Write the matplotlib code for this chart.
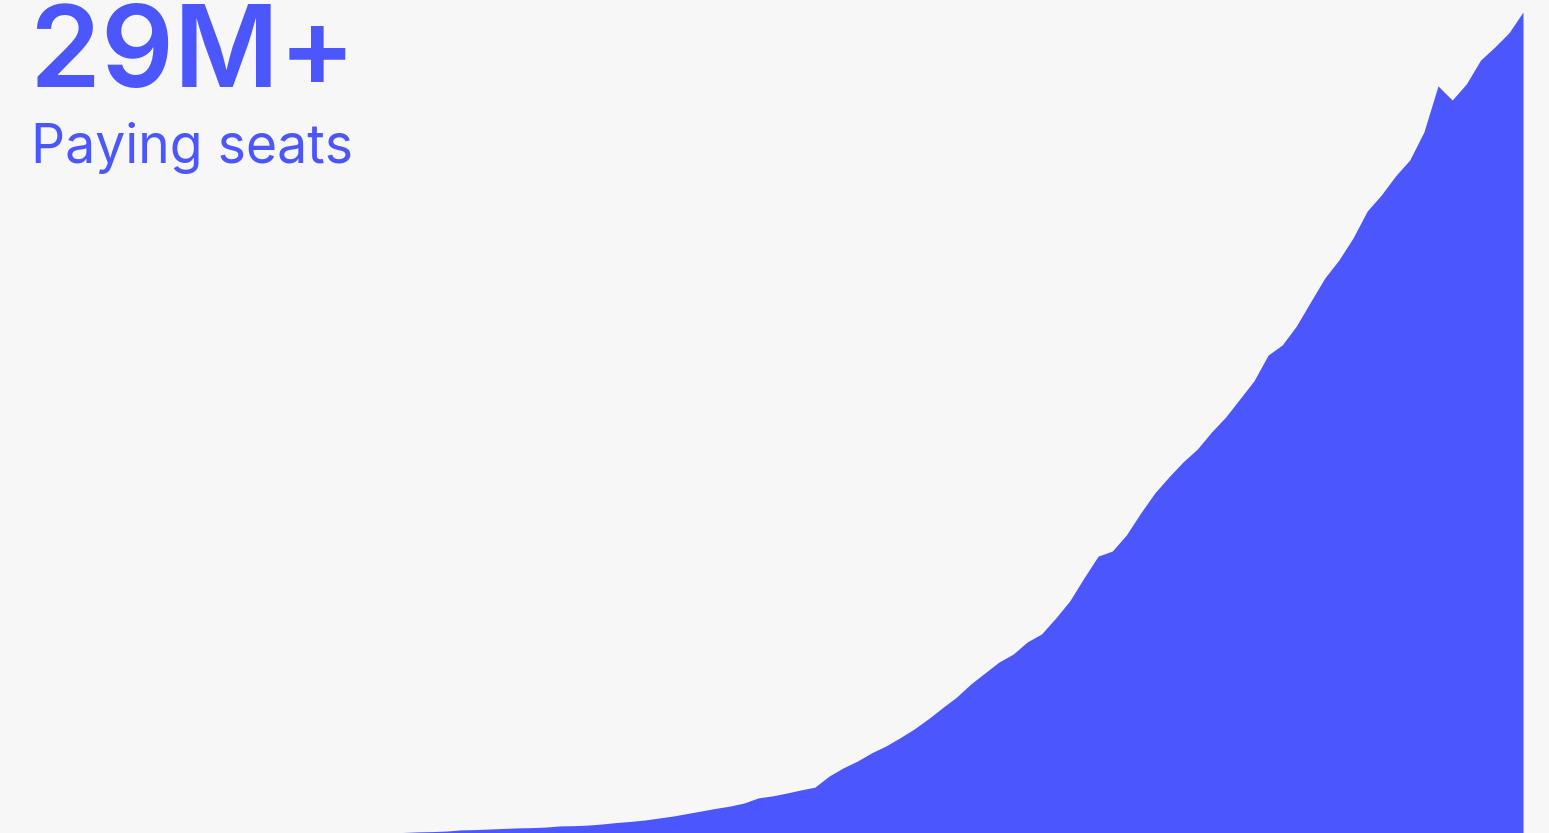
import numpy as np
import matplotlib.pyplot as plt

# paying seats in millions, monthly
months = np.arange(81)
seats = [0.00, 0.02, 0.04, 0.05, 0.07, 0.11, 0.12, 0.14, 0.16, 0.18,
         0.19, 0.21, 0.25, 0.26, 0.28, 0.32, 0.37, 0.41, 0.46, 0.53,
         0.60, 0.69, 0.78, 0.87, 0.95, 1.06, 1.24, 1.31, 1.41, 1.52,
         1.62, 2.01, 2.30, 2.54, 2.83, 3.07, 3.36, 3.67, 4.03, 4.42,
         4.80, 5.26, 5.65, 6.04, 6.32, 6.75, 7.03, 7.59, 8.20, 9.01,
         9.78, 9.96, 10.53, 11.30, 12.01, 12.58, 13.11, 13.56, 14.16, 14.69,
         15.33, 15.97, 16.88, 17.24, 17.91, 18.76, 19.60, 20.24, 21.02, 21.97,
         22.54, 23.21, 23.77, 24.76, 26.39, 25.89, 26.46, 27.30, 27.76, 28.26,
         29.00]

blue = '#4B56FD'
bg = '#F7F7F7'
W, H = 1549, 833

fig = plt.figure(figsize=(W / 100, H / 100), dpi=100, facecolor=bg)
ax = fig.add_axes([0, 0, 1, 1])
ax.set_facecolor(bg)
ax.fill_between(months, seats, 0, color=blue, lw=0)

# place month 0 at x=390px and the last month at x=1523px
px = (1523 - 390) / 80
xmin = -390 / px
ax.set_xlim(xmin, xmin + W / px)
ax.set_ylim(0, 29 * H / (H - 12))
ax.axis('off')

fig.text(30 / W, 1 - 87 / H, "29M+", color=blue, fontsize=82,
         family='Inter', weight='semibold', va='baseline', ha='left')
fig.text(31 / W, 1 - 163 / H, "Paying seats", color=blue, fontsize=38.5,
         family='Inter', va='baseline', ha='left')

fig.savefig('out.png', dpi=100, facecolor=bg)
